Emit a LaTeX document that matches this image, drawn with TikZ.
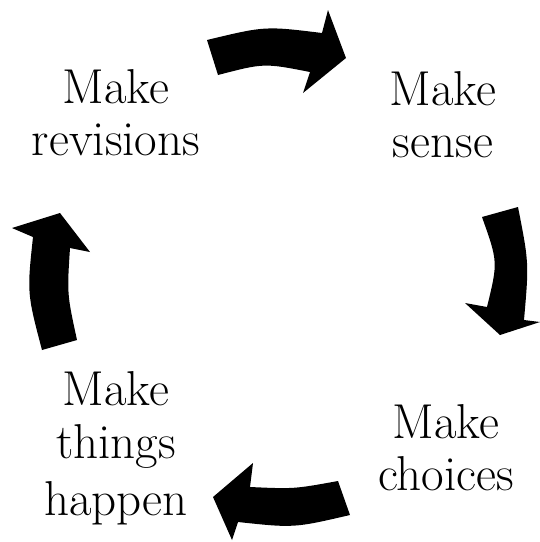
\documentclass[tikz,border=0pt]{standalone}
\begin{document}
\begin{tikzpicture}[x=1pt,y=-1pt,
  lbl/.style={anchor=base,inner sep=0pt,font=\fontsize{49}{53}\selectfont},
  bigarrow/.style={fill=black,draw=none}]
\useasboundingbox (0,0) rectangle (540,542);
% top arrow
\path[bigarrow] (207,40) .. controls (265,26) .. (322,33) -- (328,10) -- (346,58) -- (303,93) -- (310,72) .. controls (264,63) .. (218,75) -- cycle;
% right arrow
\path[bigarrow] (482,217) -- (518,207) .. controls (529,263) .. (524,320) -- (540,322) -- (500,335) -- (465,303) -- (487,307) .. controls (498,262) .. cycle;
% bottom arrow
\path[bigarrow] (338,481) .. controls (294,489) .. (250,487) -- (253,463) -- (213,497) -- (232,540) -- (238,522) .. controls (294,528) .. (350,515) -- cycle;
% left arrow
\path[bigarrow] (42,350) -- (77,340) .. controls (67,294) .. (70,248) -- (90,252) -- (60,213) -- (12,228) -- (33,237) .. controls (27,293) .. cycle;
% labels
\node[lbl] (rev1) at (116,103) {Make};
\node[lbl] (rev2) at (116,155) {revisions};
\node[lbl] (sen1) at (443,105) {Make};
\node[lbl] (sen2) at (443,157) {sense};
\node[lbl] (cho1) at (446,438) {Make};
\node[lbl] (cho2) at (446,490) {choices};
\node[lbl] (hap1) at (116,405) {Make};
\node[lbl] (hap2) at (116,458) {things};
\node[lbl] (hap3) at (116,515) {happen};
\end{tikzpicture}
\end{document}
